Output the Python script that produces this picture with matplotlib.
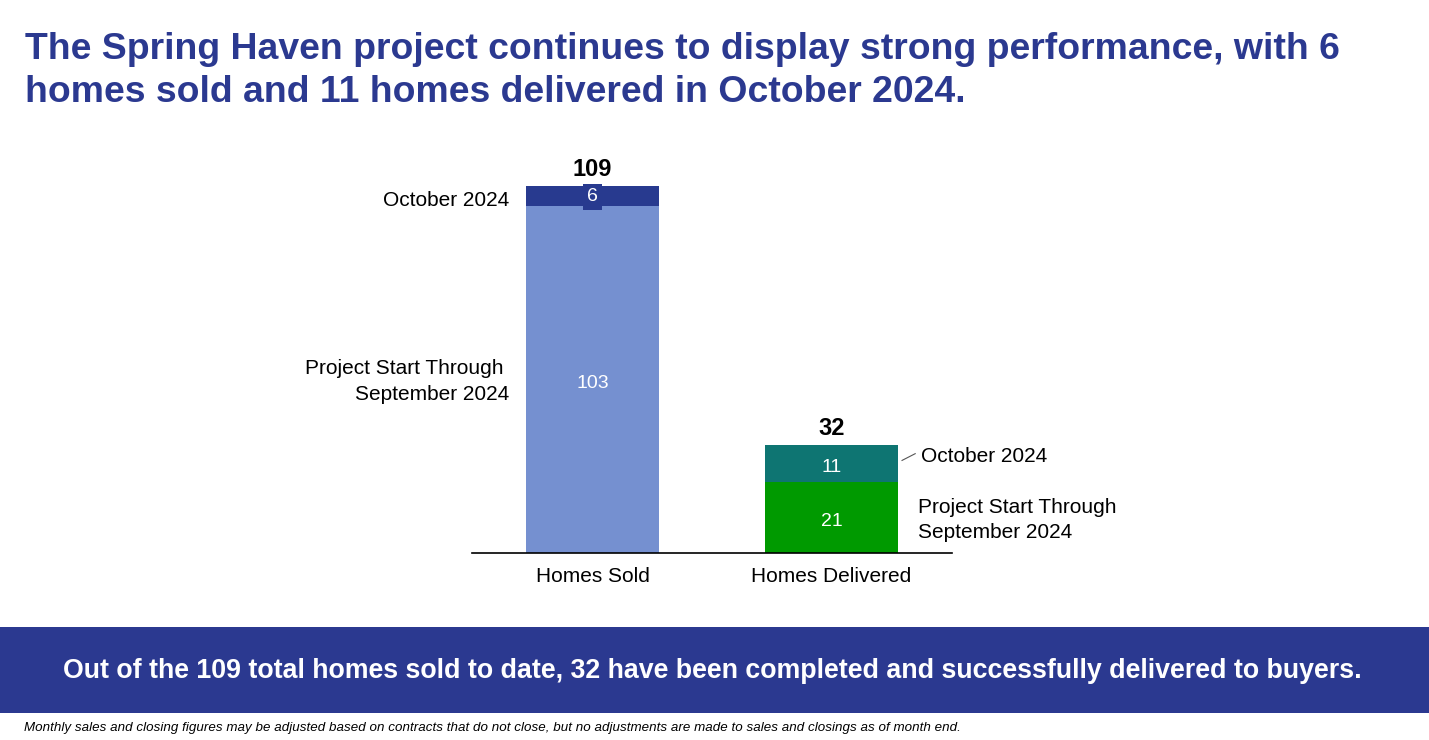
import matplotlib.pyplot as plt
from matplotlib.patches import Rectangle
from matplotlib.lines import Line2D

categories = ["Homes Sold", "Homes Delivered"]
through_sept = [103, 21]
october = [6, 11]
totals = [a + b for a, b in zip(through_sept, october)]

base_colors = ["#7590D0", "#009A00"]
top_colors = ["#283A8F", "#0E7572"]
navy = "#2B3990"

plt.rcParams["font.family"] = ["Liberation Sans", "DejaVu Sans"]

W, H = 1429, 740
fig = plt.figure(figsize=(W / 100, H / 100), dpi=100)


def fx(px):
    return px / W


def fy(py):
    return 1 - py / H


# axes placed so bars land where they do in the slide
ax = fig.add_axes([fx(472), fy(553), fx(480), 404 / H])
x = list(range(len(categories)))
ax.bar(x, through_sept, width=0.556, color=base_colors)
ax.bar(x, october, width=0.556, bottom=through_sept, color=top_colors)
ax.set_xlim(-0.504, 1.504)
ax.set_ylim(0, 120)
for s in ["top", "right", "left"]:
    ax.spines[s].set_visible(False)
ax.spines["bottom"].set_color("black")
ax.spines["bottom"].set_linewidth(1.2)
ax.set_yticks([])
ax.set_xticks(x)
ax.set_xticklabels(categories, fontsize=15)
ax.tick_params(axis="x", length=0, pad=10)

off = -1.2  # small downward nudge of the in-bar numbers
for i in x:
    ax.text(i, through_sept[i] / 2 + off, str(through_sept[i]), ha="center", va="center",
            color="white", fontsize=14)
    ax.text(i, through_sept[i] + october[i] / 2 + (off if i else -0.2), str(october[i]),
            ha="center", va="center", color="white", fontsize=14,
            bbox=dict(facecolor=top_colors[i], edgecolor="none", pad=3.2) if i == 0 else None)
    ax.text(i, totals[i] + 1.5, str(totals[i]), ha="center", va="bottom",
            fontsize=17, fontweight="bold")

# side labels for the segments
ax.text(-0.35, through_sept[0] + october[0] / 2 - 1.4, "October 2024", ha="right",
        va="center", fontsize=15)
ax.text(-0.35, through_sept[0] / 2 - 0.6, "Project Start Through \nSeptember 2024", ha="right",
        va="center", fontsize=15, linespacing=1.5)
ax.text(1.375, through_sept[1] + october[1] / 2 + 2.2, "October 2024", ha="left", va="center",
        fontsize=15)
ax.add_line(Line2D([1.295, 1.35], [through_sept[1] + october[1] / 2 + 1.0,
                                   through_sept[1] + october[1] / 2 + 3.0],
                   color="#555555", lw=0.8))
ax.text(1.362, through_sept[1] / 2 - 0.7, "Project Start Through\nSeptember 2024", ha="left",
        va="center", fontsize=15, linespacing=1.35)

fig.text(fx(25), fy(71), "The Spring Haven project continues to display strong performance, with 6\n"
         "homes sold and 11 homes delivered in October 2024.",
         ha="left", va="center", fontsize=26.9, fontweight="bold", color=navy,
         linespacing=1.3)

fig.patches.append(Rectangle((0, fy(713)), 1, 86 / H, transform=fig.transFigure,
                             facecolor=navy, edgecolor="none"))
fig.text(fx(712), fy(671), "Out of the 109 total homes sold to date, 32 have been completed and "
         "successfully delivered to buyers.", ha="center", va="center", fontsize=19.3,
         fontweight="bold", color="white")
fig.text(fx(24), fy(728), "Monthly sales and closing figures may be adjusted based on contracts "
         "that do not close, but no adjustments are made to sales and closings as of month end.",
         ha="left", va="center", fontsize=9.65, style="italic")

fig.savefig("out.png", dpi=100)
